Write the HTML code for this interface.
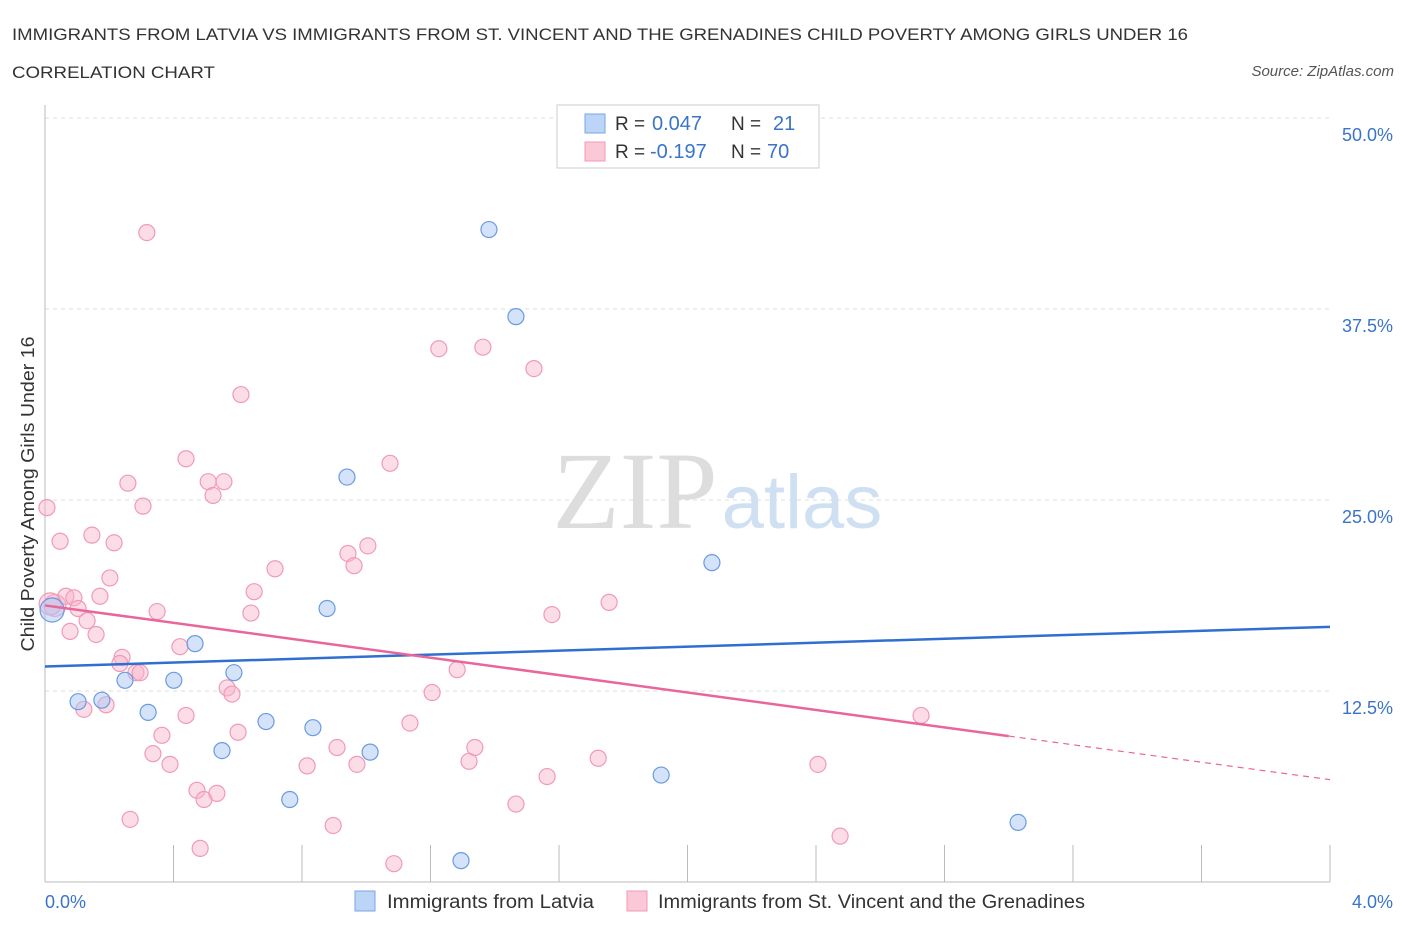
<!DOCTYPE html>
<html><head><meta charset="utf-8"><style>
body{margin:0;background:#fff;font-family:"Liberation Sans",sans-serif;}
svg{display:block}
</style></head><body>
<svg width="1406" height="930" id="chart" font-family="Liberation Sans, sans-serif">
<text x="12" y="40" font-size="17" fill="#333" textLength="1176" lengthAdjust="spacingAndGlyphs">IMMIGRANTS FROM LATVIA VS IMMIGRANTS FROM ST. VINCENT AND THE GRENADINES CHILD POVERTY AMONG GIRLS UNDER 16</text>
<text x="12" y="78" font-size="17" fill="#333" textLength="203" lengthAdjust="spacingAndGlyphs">CORRELATION CHART</text>
<text x="1394" y="76" font-size="15" fill="#555" font-style="italic" text-anchor="end">Source: ZipAtlas.com</text>
<text x="635" y="528" font-size="110" fill="#ddd" font-family="Liberation Serif, serif" text-anchor="middle">ZIP</text>
<text x="802" y="528" font-size="76" fill="#cfe0f3" text-anchor="middle">atlas</text>
<g id="grid"></g>
<g id="marks"></g>
<text x="34" y="494" font-size="18" fill="#333" text-anchor="middle" textLength="315" lengthAdjust="spacingAndGlyphs" transform="rotate(-90 34 494)">Child Poverty Among Girls Under 16</text>
<text x="45" y="908" font-size="18" fill="#3a74c9">0.0%</text>
<text x="1393" y="908" font-size="18" fill="#3a74c9" text-anchor="end">4.0%</text>
<g>
<rect x="557" y="105" width="262" height="63" fill="#fff" stroke="#ccc"/>
<rect x="585" y="114" width="20" height="19" fill="#bcd4f6" stroke="#7aa6e6"/>
<rect x="585" y="142" width="20" height="19" fill="#fbc8d8" stroke="#f19ab6"/>
<text x="615" y="130" font-size="19" fill="#333">R =</text>
<text x="652" y="130" font-size="20" fill="#3a74c9">0.047</text>
<text x="731" y="130" font-size="19" fill="#333">N =</text>
<text x="773" y="130" font-size="20" fill="#3a74c9">21</text>
<text x="615" y="158" font-size="19" fill="#333">R =</text>
<text x="650" y="158" font-size="20" fill="#3a74c9">-0.197</text>
<text x="731" y="158" font-size="19" fill="#333">N =</text>
<text x="767" y="158" font-size="20" fill="#3a74c9">70</text>
</g>
<g>
<rect x="355" y="891" width="20" height="20" fill="#bcd4f6" stroke="#7aa6e6"/>
<text x="387" y="908" font-size="19" fill="#333" textLength="207" lengthAdjust="spacingAndGlyphs">Immigrants from Latvia</text>
<rect x="627" y="891" width="20" height="20" fill="#fbc8d8" stroke="#f19ab6"/>
<text x="658" y="908" font-size="19" fill="#333" textLength="427" lengthAdjust="spacingAndGlyphs">Immigrants from St. Vincent and the Grenadines</text>
</g>
</svg>
<script>
const yTicks=[12.5,25,37.5,50];
const yTickLabels=["12.5%","25.0%","37.5%","50.0%"];
const blueX=[0.022,0.103,0.177,0.249,0.321,0.401,0.467,0.551,0.588,0.688,0.762,0.834,0.878,0.940,1.012,1.295,1.382,1.466,2.076,1.918,3.029];
const blueY=[17.8,11.8,11.9,13.2,11.1,13.2,15.6,8.6,13.7,10.5,5.4,10.1,17.9,26.5,8.5,1.4,42.7,37.0,20.9,7.0,3.9];
const pinkX=[0.006,0.031,0.047,0.065,0.078,0.090,0.103,0.121,0.131,0.146,0.159,0.171,0.190,0.202,0.215,0.240,0.233,0.258,0.265,0.283,0.296,0.305,0.317,0.336,0.349,0.364,0.389,0.420,0.439,0.439,0.473,0.483,0.495,0.508,0.523,0.535,0.557,0.567,0.582,0.601,0.610,0.641,0.651,0.716,0.816,0.897,0.909,0.943,0.962,0.971,1.005,1.074,1.086,1.136,1.205,1.226,1.283,1.320,1.338,1.363,1.466,1.522,1.563,1.578,1.722,1.756,2.406,2.475,2.727,0.016];
const pinkY=[24.5,18.1,22.3,18.7,16.4,18.6,17.9,11.3,17.1,22.7,16.2,18.7,11.6,19.9,22.2,14.7,14.3,26.1,4.1,13.7,13.7,24.6,42.5,8.4,17.7,9.6,7.7,15.4,27.7,10.9,6.0,2.2,5.4,26.2,25.3,5.8,26.2,12.7,12.3,9.8,31.9,17.6,19.0,20.5,7.6,3.7,8.8,21.5,20.7,7.7,22.0,27.4,1.2,10.4,12.4,34.9,13.9,7.9,8.8,35.0,5.1,33.6,6.9,17.5,8.1,18.3,7.7,3.0,10.9,18.2];
const blueTrend=[14.1,16.7];
const pinkTrend=[18.1,6.7];
const xs=v=>45+v/4*1285, ys=v=>882-v/50*764;
const NS="http://www.w3.org/2000/svg";
function mk(t,a,p){const e=document.createElementNS(NS,t);for(const k in a)e.setAttribute(k,a[k]);p.appendChild(e);return e;}
const grid=document.getElementById('grid'), marks=document.getElementById('marks');
yTicks.forEach((t,i)=>{
 const l=mk('line',{x1:45,x2:1330,y1:ys(t),y2:ys(t),stroke:'#ddd','stroke-dasharray':'4,4'},grid);
 
 
 const tx=mk('text',{x:1393,y:ys(t)+23,'font-size':18,fill:'#3a74c9','text-anchor':'end'},grid);
 tx.textContent=yTickLabels[i];
 
 
});
const ax=mk('line',{x1:45,x2:45,y1:105,y2:882,stroke:'#bbb'},grid);


const bx=mk('line',{x1:45,x2:1330,y1:882,y2:882,stroke:'#bbb'},grid);


for(let i=0;i<=10;i++){
 const t=mk('line',{x1:xs(i*0.4),x2:xs(i*0.4),y1:845,y2:882,stroke:'#bbb'},grid);
 
 
}
pinkX.forEach((x,i)=>{
 const r=(i===1||i===69)?11:8;
 const c=mk('circle',{cx:xs(x),cy:ys(pinkY[i]),r:r,fill:'rgba(248,180,202,0.45)',stroke:'#f19ab6','stroke-width':1.2},marks);
 
 
});
blueX.forEach((x,i)=>{
 const r=i===0?12:8;
 const c=mk('circle',{cx:xs(x),cy:ys(blueY[i]),r:r,fill:'rgba(170,200,245,0.5)',stroke:'#6a9be0','stroke-width':1.2},marks);
 
 
});
const bl=mk('line',{x1:xs(0),y1:ys(blueTrend[0]),x2:xs(4),y2:ys(blueTrend[1]),stroke:'#2f6fd0','stroke-width':2.5},marks);


const pAt=x=>pinkTrend[0]+(pinkTrend[1]-pinkTrend[0])*x/4;
const pl=mk('line',{x1:xs(0),y1:ys(pAt(0)),x2:xs(3.0),y2:ys(pAt(3.0)),stroke:'#e8669a','stroke-width':2.5},marks);


const pd=mk('line',{x1:xs(3.0),y1:ys(pAt(3.0)),x2:xs(4),y2:ys(pAt(4)),stroke:'#e8669a','stroke-width':1.2,'stroke-dasharray':'6,5'},marks);


</script>
</body></html>
